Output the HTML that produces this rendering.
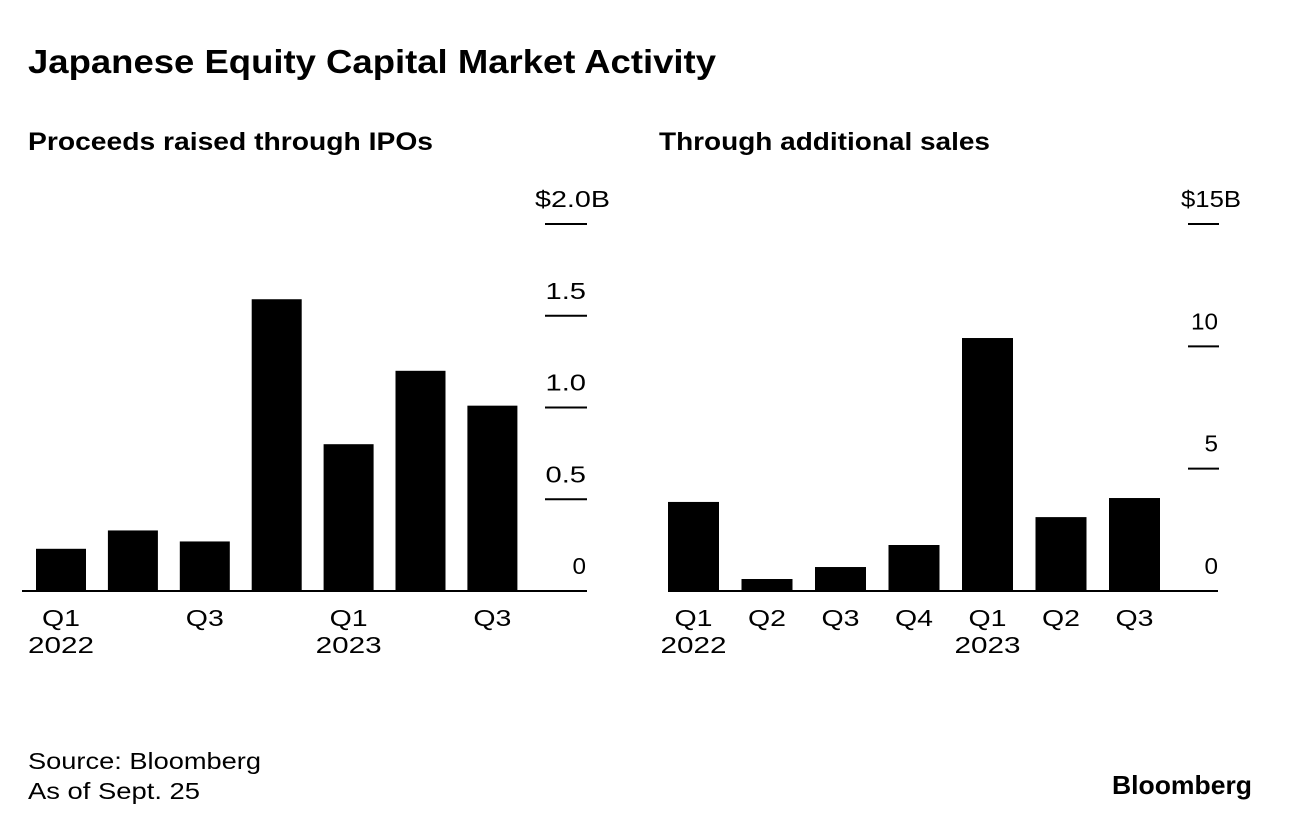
<!DOCTYPE html>
<html><head><meta charset="utf-8"><style>
body{margin:0;background:#fff;}
svg{display:block;font-family:"Liberation Sans",Arial,sans-serif;}
</style></head><body>
<svg id="c" width="1292" height="830" viewBox="0 0 1292 830">
<text x="28" y="73" font-size="33" font-weight="bold" textLength="688" lengthAdjust="spacingAndGlyphs">Japanese Equity Capital Market Activity</text>
<text x="28" y="150" font-size="25" font-weight="bold" textLength="405" lengthAdjust="spacingAndGlyphs">Proceeds raised through IPOs</text>
<text x="659" y="150" font-size="25" font-weight="bold" textLength="331" lengthAdjust="spacingAndGlyphs">Through additional sales</text>
<g id="left"></g>
<g id="right"></g>
<text x="28" y="769" font-size="23" textLength="233" lengthAdjust="spacingAndGlyphs">Source: Bloomberg</text>
<text x="28" y="799" font-size="23" textLength="172" lengthAdjust="spacingAndGlyphs">As of Sept. 25</text>
<text x="1112" y="794" font-size="26" font-weight="bold" textLength="140" lengthAdjust="spacingAndGlyphs">Bloomberg</text>
</svg>
<script>
const ipoCats = ["Q1","Q2","Q3","Q4","Q1","Q2","Q3"];
const ipoXLabels = ["Q1","","Q3","","Q1","","Q3"];
const ipoYears = ["2022","","","","2023","",""];
const ipoValues = [0.23, 0.33, 0.27, 1.59, 0.80, 1.20, 1.01];
const ipoTicks = [0, 0.5, 1.0, 1.5, 2.0];
const ipoTickLabels = ["0","0.5","1.0","1.5","$2.0B"];

const salesCats = ["Q1","Q2","Q3","Q4","Q1","Q2","Q3"];
const salesXLabels = ["Q1","Q2","Q3","Q4","Q1","Q2","Q3"];
const salesYears = ["2022","","","","2023","",""];
const salesValues = [3.64, 0.49, 0.98, 1.88, 10.34, 3.02, 3.8];
const salesTicks = [0, 5, 10, 15];
const salesTickLabels = ["0","5","10","$15B"];

const NS="http://www.w3.org/2000/svg";
function mk(parent,tag,attrs,text){const e=document.createElementNS(NS,tag);for(const k in attrs)e.setAttribute(k,attrs[k]);if(text!==undefined)e.textContent=text;parent.appendChild(e);return e;}

function draw(g,cfg,vals,xl,yrs,ticks,tlabels,prefix){
  const y=v=>cfg.base-(v-0)/(cfg.max)*(cfg.base-cfg.top);
  const x=i=>cfg.x0+i*cfg.step;
  ticks.forEach((t,i)=>{
    if(t!==0){
      const l=mk(g,"line",{x1:cfg.tx1,x2:cfg.tx2,y1:y(t),y2:y(t),stroke:"#000","stroke-width":2});
      
      
    }
    const lab=tlabels[i];
    const isTop=i===ticks.length-1;
    const attrs={x:isTop?cfg.topLabelX:cfg.labelX,y:y(t)-17,"font-size":23,"text-anchor":"end"};
    attrs.textLength=lab.length*(isTop?15:13.5);
    attrs.lengthAdjust="spacingAndGlyphs";
    const tx=mk(g,"text",attrs,lab);
    
    
  });
  vals.forEach((v,i)=>{
    const r=mk(g,"rect",{x:x(i),y:y(v),width:cfg.bw,height:cfg.base-y(v),fill:"#000"});
    
    
    const cx=x(i)+cfg.bw/2;
    if(xl[i]){
      const t=mk(g,"text",{x:cx,y:cfg.base+35,"font-size":23,"text-anchor":"middle",textLength:38,lengthAdjust:"spacingAndGlyphs"},xl[i]);
      
      
    }
    if(yrs[i]){
      const t=mk(g,"text",{x:cx,y:cfg.base+62,"font-size":23,"text-anchor":"middle",textLength:66,lengthAdjust:"spacingAndGlyphs"},yrs[i]);
      
      
    }
  });
  const ax=mk(g,"line",{x1:cfg.ax1,x2:cfg.ax2,y1:cfg.base,y2:cfg.base,stroke:"#000","stroke-width":2});
  
  
}
draw(document.getElementById("left"),
 {base:591,top:224,max:2.0,x0:36,step:71.9,bw:50,tx1:545,tx2:587,labelX:586,topLabelX:610,ax1:22,ax2:587},
 ipoValues,ipoXLabels,ipoYears,ipoTicks,ipoTickLabels,"ipo");
draw(document.getElementById("right"),
 {base:591,top:224,max:15,x0:668,step:73.5,bw:51,tx1:1188,tx2:1219,labelX:1218,topLabelX:1241,ax1:668,ax2:1218},
 salesValues,salesXLabels,salesYears,salesTicks,salesTickLabels,"sales");
</script>
</body></html>
